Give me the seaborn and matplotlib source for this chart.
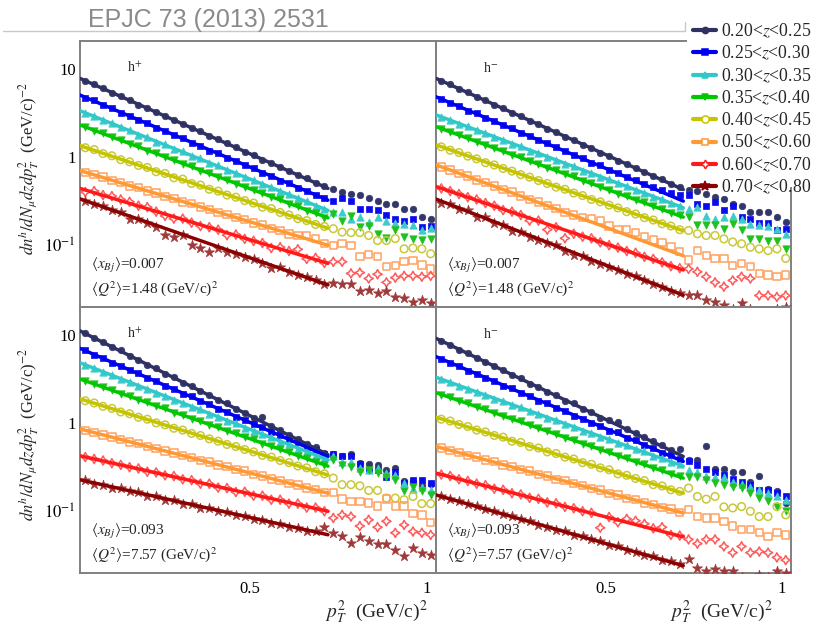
import numpy as np
import pandas as pd
import matplotlib
matplotlib.use("Agg")
import matplotlib.pyplot as plt
import seaborn as sns
from matplotlib.lines import Line2D
from matplotlib.patches import Rectangle
from matplotlib.ticker import FixedLocator, FixedFormatter, LogLocator, NullFormatter, NullLocator

# ---------------- data ----------------
pt2 = [0.035, 0.060, 0.085, 0.110, 0.135, 0.160, 0.185, 0.210, 0.235, 0.260,
       0.285, 0.310, 0.335, 0.360, 0.385, 0.410, 0.435, 0.460, 0.485, 0.510,
       0.535, 0.560, 0.585, 0.610, 0.635, 0.660, 0.685, 0.710, 0.735, 0.760,
       0.785, 0.810, 0.835, 0.860, 0.885, 0.910, 0.935, 0.960, 0.985, 1.010]
fit_x = [0.02, 0.72]

z_labels = ["0.20<$z$<0.25", "0.25<$z$<0.30", "0.30<$z$<0.35", "0.35<$z$<0.40",
            "0.40<$z$<0.45", "0.50<$z$<0.60", "0.60<$z$<0.70", "0.70<$z$<0.80"]

# top-left: h+, <x_Bj>=0.007
tl_z1 = [7.3, 6.6, 6.0, 5.3, 4.9, 4.4, 3.9, 3.6, 3.25, 2.9, 2.63, 2.38, 2.12, 1.95, 1.72, 1.58, 1.42, 1.29, 1.14, 1.06,
         0.93, 0.86, 0.76, 0.70, 0.62, 0.57, 0.50, 0.47, 0.435, 0.40, 0.38, 0.37, 0.34, 0.32, 0.29, 0.29, 0.26, 0.26, 0.21, 0.20]
tl_z2 = [4.7, 4.35, 3.85, 3.55, 3.15, 2.93, 2.60, 2.42, 2.13, 1.98, 1.75, 1.63, 1.44, 1.34, 1.18, 1.10, 0.97, 0.91, 0.80, 0.74,
         0.66, 0.61, 0.54, 0.50, 0.45, 0.41, 0.37, 0.34, 0.32, 0.34, 0.32, 0.26, 0.26, 0.25, 0.22, 0.20, 0.19, 0.20, 0.16, 0.165]
tl_z3 = [3.15, 2.90, 2.60, 2.42, 2.16, 2.02, 1.79, 1.67, 1.49, 1.39, 1.24, 1.16, 1.03, 0.96, 0.85, 0.80, 0.71, 0.66, 0.59, 0.55,
         0.49, 0.46, 0.41, 0.38, 0.34, 0.32, 0.28, 0.26, 0.235, 0.24, 0.20, 0.21, 0.185, 0.21, 0.19, 0.18, 0.175, 0.17, 0.15, 0.155]
tl_z4 = [2.2, 1.98, 1.86, 1.66, 1.56, 1.39, 1.32, 1.17, 1.10, 0.99, 0.93, 0.83, 0.78, 0.70, 0.66, 0.59, 0.55, 0.49, 0.46, 0.42,
         0.39, 0.35, 0.33, 0.29, 0.275, 0.245, 0.23, 0.205, 0.227, 0.19, 0.217, 0.16, 0.165, 0.135, 0.12, 0.147, 0.124, 0.119, 0.114, 0.119]
tl_z5 = [1.27, 1.21, 1.09, 1.03, 0.93, 0.88, 0.80, 0.76, 0.68, 0.65, 0.58, 0.56, 0.50, 0.48, 0.43, 0.41, 0.37, 0.35, 0.32, 0.30,
         0.27, 0.26, 0.235, 0.22, 0.20, 0.19, 0.172, 0.163, 0.154, 0.141, 0.139, 0.139, 0.129, 0.113, 0.113, 0.119, 0.091, 0.093, 0.091, 0.08]
tl_z6 = [0.67, 0.63, 0.59, 0.54, 0.51, 0.47, 0.45, 0.41, 0.39, 0.355, 0.34, 0.31, 0.295, 0.27, 0.255, 0.235, 0.222, 0.205, 0.194, 0.178,
         0.17, 0.155, 0.148, 0.134, 0.128, 0.129, 0.12, 0.105, 0.10, 0.104, 0.10, 0.075, 0.078, 0.074, 0.057, 0.059, 0.065, 0.067, 0.06, 0.054]
tl_z7 = [0.40, 0.41, 0.37, 0.36, 0.33, 0.31, 0.28, 0.27, 0.24, 0.215, 0.20, 0.20, 0.18, 0.165, 0.16, 0.15, 0.13, 0.132, 0.118, 0.112,
         0.106, 0.093, 0.095, 0.086, 0.09, 0.07, 0.072, 0.063, 0.065, 0.065, 0.048, 0.049, 0.042, 0.047, 0.038, 0.043, 0.045, 0.045, 0.044, 0.045]
tl_z8 = [0.32, 0.29, 0.28, 0.25, 0.235, 0.20, 0.20, 0.18, 0.16, 0.13, 0.125, 0.13, 0.10, 0.094, 0.084, 0.094, 0.083, 0.08, 0.074, 0.07,
         0.063, 0.055, 0.056, 0.05, 0.046, 0.044, 0.04, 0.036, 0.037, 0.036, 0.036, 0.030, 0.031, 0.029, 0.030, 0.026, 0.025, 0.023, 0.024, 0.022]
tl_fit_lo = [7.74, 5.01, 3.33, 2.30, 1.34, 0.70, 0.44, 0.335]
tl_fit_hi = [0.44, 0.324, 0.248, 0.204, 0.156, 0.10, 0.0624, 0.0356]

# top-right: h-, <x_Bj>=0.007
tr_z1 = [7.2, 6.6, 5.9, 5.4, 4.8, 4.4, 3.9, 3.55, 3.15, 2.9, 2.55, 2.36, 2.08, 1.92, 1.69, 1.56, 1.38, 1.27, 1.12, 1.03,
         0.91, 0.84, 0.74, 0.68, 0.60, 0.56, 0.49, 0.46, 0.42, 0.415, 0.38, 0.35, 0.335, 0.29, 0.28, 0.24, 0.24, 0.24, 0.21, 0.185]
tr_z2 = [4.5, 4.05, 3.75, 3.35, 3.1, 2.76, 2.56, 2.28, 2.10, 1.87, 1.74, 1.54, 1.43, 1.28, 1.18, 1.05, 0.97, 0.86, 0.80, 0.71,
         0.66, 0.59, 0.55, 0.49, 0.46, 0.42, 0.39, 0.37, 0.37, 0.295, 0.28, 0.31, 0.25, 0.28, 0.21, 0.20, 0.18, 0.18, 0.147, 0.153]
tr_z3 = [2.82, 2.62, 2.37, 2.21, 1.99, 1.86, 1.67, 1.57, 1.40, 1.32, 1.18, 1.11, 1.0, 0.93, 0.84, 0.78, 0.70, 0.66, 0.59, 0.555,
         0.50, 0.47, 0.42, 0.395, 0.35, 0.33, 0.30, 0.28, 0.26, 0.27, 0.217, 0.20, 0.21, 0.217, 0.20, 0.175, 0.168, 0.165, 0.153, 0.135]
tr_z4 = [2.08, 1.93, 1.76, 1.64, 1.49, 1.38, 1.25, 1.17, 1.06, 0.99, 0.89, 0.84, 0.75, 0.71, 0.64, 0.60, 0.54, 0.505, 0.455, 0.425,
         0.385, 0.36, 0.325, 0.305, 0.275, 0.26, 0.23, 0.22, 0.21, 0.168, 0.168, 0.168, 0.153, 0.175, 0.147, 0.118, 0.118, 0.113, 0.113, 0.091]
tr_z5 = [1.3, 1.19, 1.12, 1.02, 0.95, 0.86, 0.81, 0.74, 0.69, 0.63, 0.59, 0.54, 0.50, 0.455, 0.43, 0.39, 0.365, 0.33, 0.31, 0.285,
         0.265, 0.24, 0.226, 0.205, 0.193, 0.175, 0.165, 0.15, 0.147, 0.135, 0.129, 0.129, 0.118, 0.109, 0.104, 0.095, 0.091, 0.087, 0.091, 0.071]
tr_z6 = [0.77, 0.71, 0.65, 0.61, 0.55, 0.51, 0.47, 0.43, 0.40, 0.36, 0.33, 0.31, 0.28, 0.26, 0.235, 0.22, 0.205, 0.20, 0.19, 0.165,
         0.15, 0.15, 0.14, 0.125, 0.115, 0.107, 0.097, 0.085, 0.068, 0.087, 0.077, 0.071, 0.071, 0.059, 0.062, 0.057, 0.048, 0.046, 0.044, 0.046]
tr_z7 = [0.44, 0.41, 0.38, 0.35, 0.33, 0.30, 0.28, 0.25, 0.24, 0.22, 0.19, 0.19, 0.15, 0.16, 0.12, 0.135, 0.125, 0.12, 0.108, 0.10,
         0.094, 0.086, 0.082, 0.074, 0.07, 0.064, 0.058, 0.055, 0.054, 0.050, 0.044, 0.038, 0.034, 0.040, 0.044, 0.042, 0.027, 0.027, 0.026, 0.027]
tr_z8 = [0.30, 0.29, 0.26, 0.25, 0.21, 0.21, 0.18, 0.17, 0.145, 0.14, 0.125, 0.115, 0.105, 0.10, 0.085, 0.078, 0.075, 0.066, 0.062, 0.056,
         0.052, 0.047, 0.045, 0.04, 0.036, 0.034, 0.030, 0.029, 0.027, 0.027, 0.024, 0.023, 0.021, 0.019, 0.022, 0.019, 0.018, 0.018, 0.019, 0.02]
tr_fit_lo = [7.74, 4.79, 2.99, 2.20, 1.37, 0.813, 0.462, 0.333]
tr_fit_hi = [0.427, 0.316, 0.266, 0.208, 0.146, 0.076, 0.0525, 0.0272]

# bottom-left: h+, <x_Bj>=0.093
bl_z1 = [10.3, 9.1, 8.3, 7.2, 6.6, 5.7, 5.2, 4.5, 4.15, 3.6, 3.3, 2.85, 2.62, 2.28, 2.08, 1.80, 1.66, 1.44, 1.31, 1.15,
         1.18, 0.92, 0.83, 0.72, 0.66, 0.58, 0.53, 0.46, 0.44, 0.42, 0.44, 0.355, 0.345, 0.335, 0.295, 0.31, 0.22, 0.22, 0.20, 0.205]
bl_z2 = [6.6, 5.9, 5.4, 4.8, 4.45, 3.95, 3.65, 3.2, 2.98, 2.62, 2.43, 2.15, 2.0, 1.76, 1.63, 1.44, 1.34, 1.18, 1.08, 0.96,
         0.89, 0.79, 0.73, 0.66, 0.60, 0.53, 0.49, 0.44, 0.45, 0.42, 0.42, 0.344, 0.29, 0.295, 0.247, 0.28, 0.21, 0.227, 0.227, 0.21]
bl_z3 = [4.5, 4.15, 3.75, 3.48, 3.13, 2.9, 2.61, 2.43, 2.18, 2.03, 1.82, 1.70, 1.51, 1.42, 1.26, 1.18, 1.06, 0.99, 0.88, 0.82,
         0.74, 0.69, 0.61, 0.575, 0.51, 0.48, 0.43, 0.40, 0.42, 0.365, 0.365, 0.31, 0.295, 0.31, 0.27, 0.26, 0.21, 0.18, 0.19, 0.175]
bl_z4 = [2.97, 2.76, 2.52, 2.36, 2.14, 2.01, 1.82, 1.71, 1.54, 1.46, 1.31, 1.24, 1.12, 1.05, 0.95, 0.89, 0.81, 0.76, 0.69, 0.65,
         0.58, 0.55, 0.50, 0.465, 0.42, 0.40, 0.36, 0.335, 0.38, 0.335, 0.32, 0.28, 0.295, 0.27, 0.247, 0.227, 0.168, 0.19, 0.168, 0.153]
bl_z5 = [1.78, 1.68, 1.54, 1.46, 1.33, 1.27, 1.16, 1.10, 1.0, 0.95, 0.87, 0.83, 0.76, 0.72, 0.66, 0.62, 0.57, 0.54, 0.50, 0.47,
         0.43, 0.41, 0.375, 0.355, 0.325, 0.31, 0.28, 0.265, 0.237, 0.20, 0.20, 0.194, 0.172, 0.172, 0.141, 0.141, 0.135, 0.147, 0.122, 0.122]
bl_z6 = [0.82, 0.78, 0.73, 0.69, 0.65, 0.61, 0.58, 0.54, 0.51, 0.48, 0.455, 0.425, 0.405, 0.375, 0.36, 0.335, 0.32, 0.295, 0.285, 0.26,
         0.25, 0.232, 0.222, 0.205, 0.198, 0.183, 0.176, 0.162, 0.163, 0.137, 0.129, 0.129, 0.124, 0.115, 0.137, 0.115, 0.115, 0.095, 0.091, 0.075]
bl_z7 = [0.41, 0.39, 0.375, 0.35, 0.335, 0.315, 0.305, 0.28, 0.275, 0.255, 0.25, 0.23, 0.225, 0.205, 0.205, 0.185, 0.183, 0.165, 0.166, 0.15,
         0.15, 0.135, 0.135, 0.122, 0.122, 0.11, 0.11, 0.10, 0.084, 0.091, 0.087, 0.068, 0.080, 0.066, 0.077, 0.057, 0.070, 0.059, 0.057, 0.054]
bl_z8 = [0.225, 0.205, 0.20, 0.185, 0.182, 0.168, 0.163, 0.15, 0.148, 0.135, 0.134, 0.122, 0.121, 0.11, 0.109, 0.10, 0.098, 0.09, 0.089, 0.081,
         0.08, 0.073, 0.072, 0.066, 0.065, 0.06, 0.059, 0.066, 0.056, 0.053, 0.044, 0.051, 0.046, 0.043, 0.043, 0.036, 0.031, 0.038, 0.034, 0.032]
bl_fit_lo = [11.0, 6.98, 4.79, 3.14, 1.87, 0.855, 0.424, 0.227]
bl_fit_hi = [0.437, 0.417, 0.382, 0.324, 0.257, 0.160, 0.100, 0.0542]

# bottom-right: h-, <x_Bj>=0.093
br_z1 = [8.4, 7.7, 6.7, 6.2, 5.4, 4.95, 4.35, 3.98, 3.48, 3.2, 2.78, 2.57, 2.23, 2.07, 1.79, 1.66, 1.44, 1.34, 1.15, 1.08,
         1.03, 0.86, 0.76, 0.70, 0.62, 0.56, 0.49, 0.50, 0.38, 0.38, 0.55, 0.30, 0.30, 0.275, 0.28, 0.217, 0.25, 0.178, 0.168, 0.124]
br_z2 = [5.3, 4.75, 4.4, 3.9, 3.62, 3.22, 2.98, 2.64, 2.46, 2.17, 2.02, 1.78, 1.66, 1.47, 1.37, 1.21, 1.12, 1.0, 0.93, 0.82,
         0.78, 0.68, 0.64, 0.56, 0.52, 0.46, 0.43, 0.39, 0.37, 0.336, 0.30, 0.275, 0.259, 0.233, 0.217, 0.20, 0.175, 0.175, 0.16, 0.15]
br_z3 = [3.1, 2.88, 2.62, 2.45, 2.22, 2.09, 1.88, 1.77, 1.59, 1.5, 1.35, 1.27, 1.15, 1.08, 0.97, 0.91, 0.82, 0.775, 0.70, 0.66,
         0.59, 0.56, 0.50, 0.475, 0.425, 0.40, 0.36, 0.34, 0.295, 0.28, 0.25, 0.243, 0.243, 0.217, 0.204, 0.187, 0.172, 0.16, 0.15, 0.135]
br_z4 = [2.08, 1.95, 1.77, 1.67, 1.51, 1.42, 1.29, 1.21, 1.10, 1.04, 0.94, 0.88, 0.80, 0.75, 0.68, 0.64, 0.58, 0.55, 0.495, 0.465,
         0.425, 0.40, 0.36, 0.34, 0.31, 0.29, 0.262, 0.248, 0.243, 0.243, 0.227, 0.208, 0.20, 0.187, 0.183, 0.16, 0.143, 0.129, 0.111, 0.10]
br_z5 = [1.10, 1.05, 0.96, 0.91, 0.83, 0.79, 0.72, 0.69, 0.62, 0.60, 0.54, 0.52, 0.47, 0.45, 0.41, 0.39, 0.355, 0.34, 0.31, 0.295,
         0.265, 0.255, 0.235, 0.222, 0.20, 0.193, 0.175, 0.168, 0.183, 0.147, 0.137, 0.147, 0.112, 0.109, 0.113, 0.10, 0.087, 0.087, 0.113, 0.091]
br_z6 = [0.52, 0.485, 0.465, 0.43, 0.41, 0.38, 0.365, 0.335, 0.32, 0.295, 0.285, 0.26, 0.25, 0.23, 0.222, 0.205, 0.196, 0.18, 0.174, 0.158,
         0.153, 0.14, 0.135, 0.124, 0.12, 0.11, 0.106, 0.097, 0.104, 0.087, 0.084, 0.084, 0.077, 0.068, 0.062, 0.062, 0.057, 0.052, 0.057, 0.054]
br_z7 = [0.26, 0.25, 0.23, 0.22, 0.205, 0.197, 0.18, 0.175, 0.16, 0.155, 0.142, 0.138, 0.126, 0.123, 0.112, 0.108, 0.10, 0.096, 0.065, 0.086,
         0.075, 0.082, 0.078, 0.072, 0.064, 0.066, 0.054, 0.053, 0.048, 0.043, 0.048, 0.048, 0.040, 0.034, 0.040, 0.034, 0.035, 0.034, 0.030, 0.028]
br_z8 = [0.148, 0.136, 0.13, 0.12, 0.114, 0.105, 0.10, 0.092, 0.088, 0.081, 0.077, 0.07, 0.067, 0.062, 0.06, 0.054, 0.052, 0.048, 0.046, 0.041,
         0.04, 0.036, 0.035, 0.032, 0.031, 0.028, 0.027, 0.025, 0.029, 0.023, 0.021, 0.022, 0.021, 0.021, 0.018, 0.017, 0.019, 0.018, 0.021, 0.02]
br_fit_lo = [9.06, 5.62, 3.28, 2.20, 1.16, 0.540, 0.270, 0.153]
br_fit_hi = [0.417, 0.366, 0.324, 0.237, 0.160, 0.0955, 0.0513, 0.0242]

# ---------------- style ----------------
sns.set_style("white")
plt.rcParams["font.family"] = ["Liberation Serif", "DejaVu Serif"]
plt.rcParams["mathtext.fontset"] = "stix"

line_colors = ["#2f3163", "#0000f0", "#30c8c8", "#00c800", "#c4c400", "#ff9933", "#ff1a1a", "#8b0000"]
point_colors = ["#33366a", "#0a0af0", "#3ccaca", "#1ec21e", "#c8c83a", "#ffa060", "#ff5a5a", "#a03a3a"]
markers = ["o", "s", "^", "v", "o", "s", (4, 1, 0), "*"]
sizes = [22, 25, 28, 28, 30, 28, 44, 58]
filled = [True, True, True, True, False, False, False, True]

W, H = 815, 627
fig = plt.figure(figsize=(8.15, 6.27), dpi=100)
fig.patch.set_facecolor("white")


def fbox(x0, y0, x1, y1):
    return [x0 / W, 1 - y1 / H, (x1 - x0) / W, (y1 - y0) / H]


panels = [
    dict(box=fbox(80, 41, 436, 307), series=[tl_z1, tl_z2, tl_z3, tl_z4, tl_z5, tl_z6, tl_z7, tl_z8],
         lo=tl_fit_lo, hi=tl_fit_hi, h=r"h$^{+}$", xbj="0.007", q2="1.48", left=True, bottom=False),
    dict(box=fbox(436, 41, 791, 307), series=[tr_z1, tr_z2, tr_z3, tr_z4, tr_z5, tr_z6, tr_z7, tr_z8],
         lo=tr_fit_lo, hi=tr_fit_hi, h=r"h$^{-}$", xbj="0.007", q2="1.48", left=False, bottom=False),
    dict(box=fbox(80, 307, 436, 573), series=[bl_z1, bl_z2, bl_z3, bl_z4, bl_z5, bl_z6, bl_z7, bl_z8],
         lo=bl_fit_lo, hi=bl_fit_hi, h=r"h$^{+}$", xbj="0.093", q2="7.57", left=True, bottom=True, xl=0.978),
    dict(box=fbox(436, 307, 791, 573), series=[br_z1, br_z2, br_z3, br_z4, br_z5, br_z6, br_z7, br_z8],
         lo=br_fit_lo, hi=br_fit_hi, h=r"h$^{-}$", xbj="0.093", q2="7.57", left=False, bottom=True, xl=0.949),
]

for p in panels:
    ax = fig.add_axes(p["box"])
    ax.set_yscale("log")
    for k in range(8):
        df = pd.DataFrame({"pt2": pt2, "val": p["series"][k]})
        kw = dict(marker=markers[k], s=sizes[k], color=point_colors[k], edgecolor=point_colors[k],
                  legend=False, zorder=3)
        if filled[k]:
            kw["linewidth"] = 0.5
        else:
            kw["facecolor"] = "none"
            kw["linewidth"] = 1.1
        sns.scatterplot(data=df, x="pt2", y="val", ax=ax, **kw)
        sns.lineplot(x=fit_x, y=[p["lo"][k], p["hi"][k]], ax=ax, color=line_colors[k],
                     linewidth=2.5, zorder=4)
    ax.set_xlim(0.02, 1.025)
    ax.set_ylim(0.02, 20.5)
    for s in ax.spines.values():
        s.set_color("#808080")
        s.set_linewidth(1.4)
    ax.xaxis.set_major_locator(FixedLocator([0.25, 0.5, 0.75, 1.0]))
    ax.xaxis.set_minor_locator(NullLocator())
    ax.yaxis.set_major_locator(FixedLocator([0.1, 1, 10]))
    ax.yaxis.set_minor_locator(LogLocator(base=10, subs=range(2, 10), numticks=20))
    ax.yaxis.set_minor_formatter(NullFormatter())
    if p["bottom"]:
        ax.xaxis.set_major_formatter(FixedFormatter(["", "0.5", "", "1"]))
        ax.set_xlabel(r"$p_{T}^{2}$  (GeV/c)$^{2}$", fontsize=14)
        ax.xaxis.set_label_coords(p["xl"], -0.147)
        ax.xaxis.label.set_ha("right")
        ax.xaxis.label.set_va("center")
    else:
        ax.xaxis.set_major_formatter(NullFormatter())
        ax.set_xlabel("")
    if p["left"]:
        ax.yaxis.set_major_formatter(FixedFormatter([r"$10^{-1}$", "1", "10"]))
        ax.set_ylabel(r"$dn^{h}/dN_{\mu}dzdp_{T}^{2}$  (GeV/c)$^{-2}$", fontsize=12)
        ax.yaxis.set_label_coords(-0.112, 0.52)
    else:
        ax.yaxis.set_major_formatter(NullFormatter())
        ax.set_ylabel("")
    ax.tick_params(axis="both", which="both", direction="in", top=False, right=False,
                   color="#666666", labelsize=12, labelcolor="black", pad=3)
    ax.tick_params(axis="y", which="major", length=8, width=1)
    ax.tick_params(axis="y", which="minor", length=4.5, width=1)
    ax.tick_params(axis="x", which="major", length=6, width=1, pad=6)
    ax.text(0.132, 0.90, p["h"], transform=ax.transAxes, fontsize=10, ha="left", va="center")
    ax.text(0.03, 0.155, r"$\langle x_{Bj}\rangle$=" + p["xbj"], transform=ax.transAxes,
            fontsize=11, ha="left", va="center")
    ax.text(0.03, 0.07, r"$\langle Q^{2}\rangle$=" + p["q2"] + r" (GeV/c)$^{2}$", transform=ax.transAxes,
            fontsize=11, ha="left", va="center")

# slide header
fig.text(88 / W, 1 - 20 / H, "EPJC 73 (2013) 2531", color="#8a8a8a", fontsize=18,
         family="Liberation Sans", ha="left", va="center")
fig.add_artist(Line2D([3 / W, 685 / W], [1 - 31 / H, 1 - 31 / H], color="#c8c8c8", lw=1.0))
fig.add_artist(Line2D([685 / W, 685 / W], [1 - 22 / H, 1 - 31 / H], color="#c8c8c8", lw=1.0))

# legend (white box over the top-right corner)
fig.add_artist(Rectangle((687 / W, 1 - 187 / H), 1 - 687 / W, 187 / H, transform=fig.transFigure,
                         facecolor="white", edgecolor="none", zorder=5))
handles = []
for k in range(8):
    handles.append(Line2D([], [], color=line_colors[k], lw=3, marker=markers[k],
                          markersize=np.sqrt(sizes[k]) * 0.95,
                          markerfacecolor=line_colors[k] if filled[k] else "white",
                          markeredgecolor=line_colors[k], markeredgewidth=1.1))
leg = fig.legend(handles, z_labels, loc="upper left", bbox_to_anchor=(693 / W, 1 - 22 / H),
                 frameon=False, fontsize=12.8, handlelength=1.3, handletextpad=0.28,
                 labelspacing=0.22, borderpad=0.0, borderaxespad=0.0)
leg.set_zorder(6)

fig.savefig("out.png", dpi=100, facecolor="white")
